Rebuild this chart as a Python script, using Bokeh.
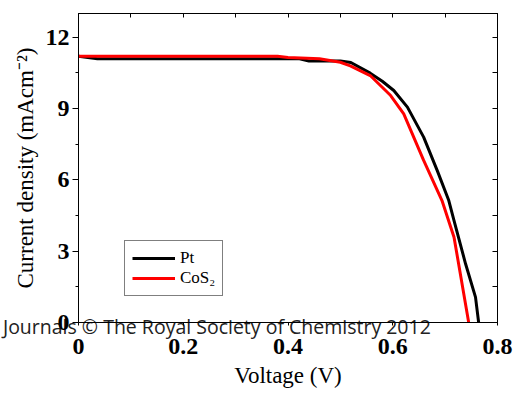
from bokeh.plotting import figure
from bokeh.models import (LinearAxis, SingleIntervalTicker, FixedTicker, Legend,
                          LegendItem, Range1d)
from bokeh.embed import file_html
from bokeh.resources import INLINE

# ---- data ----
pt_v = [0.0, 0.036, 0.1, 0.2, 0.3, 0.42, 0.44, 0.50, 0.52, 0.557, 0.58, 0.602,
        0.628, 0.659, 0.685, 0.707, 0.717, 0.739, 0.758, 0.764]
pt_j = [11.2, 11.1, 11.1, 11.1, 11.1, 11.1, 11.0, 11.0, 10.94, 10.49, 10.15, 9.76,
        9.06, 7.8, 6.39, 5.13, 4.29, 2.47, 1.07, 0.0]

cos2_v = [0.0, 0.1, 0.2, 0.3, 0.38, 0.40, 0.46, 0.50, 0.519, 0.557, 0.596, 0.621,
          0.659, 0.694, 0.717, 0.745]
cos2_j = [11.2, 11.2, 11.2, 11.2, 11.2, 11.15, 11.1, 10.95, 10.8, 10.39, 9.55, 8.78,
          6.82, 5.13, 3.59, 0.0]

series_names = ["Pt", "CoS\u2082"]
watermark = "Journals \u00a9 The Royal Society of Chemistry 2012"
watermark_center_v = 0.255   # voltage under the middle of the watermark text

SERIF = "Liberation Serif"

p = figure(width=514, height=396, output_backend="svg", toolbar_location=None,
           x_range=Range1d(0, 0.8), y_range=Range1d(0, 13),
           min_border_left=78, min_border_right=17, min_border_top=13,
           min_border_bottom=74, x_axis_label="Voltage (V)",
           y_axis_label="Current density (mAcm\u207b\u00b2)")
p.grid.visible = False
p.outline_line_color = "black"
p.outline_line_width = 1
p.background_fill_color = "white"
p.border_fill_color = "white"

# main axes
xa = p.xaxis[0]
xa.ticker = SingleIntervalTicker(interval=0.2, num_minor_ticks=2)
ya = p.yaxis[0]
ya.ticker = SingleIntervalTicker(interval=3, num_minor_ticks=2)
for ax in (xa, ya):
    ax.axis_line_color = "black"
    ax.major_tick_line_color = "black"
    ax.minor_tick_line_color = "black"
    ax.major_label_text_font = SERIF
    ax.major_label_text_font_style = "bold"
    ax.major_label_text_font_size = "24px"
    ax.major_label_text_color = "black"
    ax.axis_label_text_font = SERIF
    ax.axis_label_text_font_style = "normal"
    ax.axis_label_text_font_size = "23px"
    ax.axis_label_text_color = "black"
    ax.major_tick_in = 0
    ax.minor_tick_in = 0
xa.major_tick_out = 3
xa.minor_tick_out = 0
xa.major_label_standoff = 13
xa.axis_label_standoff = 6
ya.major_tick_out = 6
ya.minor_tick_out = 3
ya.major_label_standoff = 3
ya.axis_label_standoff = 5
xa.formatter.use_scientific = False

# mirrored axes (ticks only, inward)
top = LinearAxis(ticker=SingleIntervalTicker(interval=0.1, num_minor_ticks=0),
                 major_tick_in=4, major_tick_out=0, minor_tick_in=0, minor_tick_out=0,
                 major_label_text_font_size="0px", major_label_standoff=0,
                 axis_line_color="black", major_tick_line_color="black")
right = LinearAxis(ticker=SingleIntervalTicker(interval=1.5, num_minor_ticks=0),
                   major_tick_in=5, major_tick_out=0, minor_tick_in=0, minor_tick_out=0,
                   major_label_text_font_size="0px", major_label_standoff=0,
                   axis_line_color="black", major_tick_line_color="black")
p.add_layout(top, "above")
p.add_layout(right, "right")

# watermark line, carried by a tick-less axis so that it is not clipped to the frame
wm_axis = LinearAxis(ticker=FixedTicker(ticks=[watermark_center_v], minor_ticks=[]),
                     major_label_overrides={watermark_center_v: watermark},
                     axis_line_color=None, major_tick_line_color=None,
                     minor_tick_line_color=None, major_tick_in=0, major_tick_out=0,
                     minor_tick_in=0, minor_tick_out=0,
                     major_label_text_font="Open Sans",
                     major_label_text_font_size="19.5px",
                     major_label_text_font_style="normal",
                     major_label_text_color="#222222",
                     major_label_standoff=-326)
p.add_layout(wm_axis, "above")

r_pt = p.line(pt_v, pt_j, line_color="black", line_width=3)
r_co = p.line(cos2_v, cos2_j, line_color="#ff0000", line_width=3)

legend = Legend(items=[LegendItem(label=series_names[0], renderers=[r_pt]),
                       LegendItem(label=series_names[1], renderers=[r_co])],
                location=(46, 26), orientation="vertical",
                border_line_color="black", border_line_width=1,
                background_fill_alpha=1.0, label_text_font=SERIF,
                label_text_font_size="17px", label_text_color="black",
                glyph_width=43, glyph_height=20, label_height=20,
                label_standoff=5, padding=7, spacing=0, margin=0)
p.add_layout(legend, "center")

open("out.html", "w").write(file_html(p, INLINE))
